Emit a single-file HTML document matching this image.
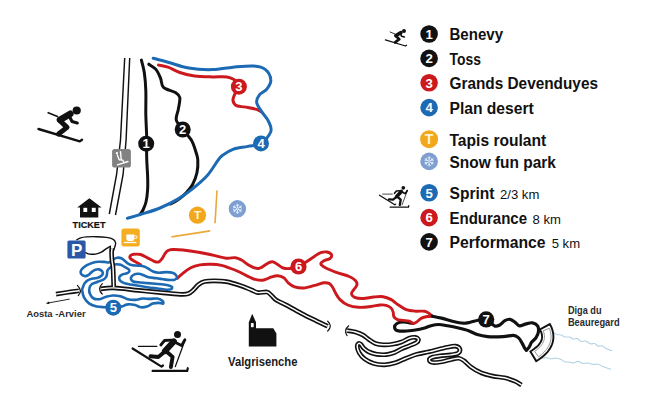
<!DOCTYPE html>
<html><head><meta charset="utf-8"><title>Valgrisenche ski map</title>
<style>html,body{margin:0;padding:0;background:#fff}svg{display:block;font-family:"Liberation Sans",sans-serif}</style>
</head><body>
<svg width="650" height="406" viewBox="0 0 650 406">
<rect width="650" height="406" fill="#fff"/>
<path d="M552.6 332.0C553.3 332.4 555.6 334.0 557.0 334.5C558.4 335.0 559.9 334.6 561.2 335.0C562.5 335.4 563.6 336.7 565.0 337.0C566.4 337.3 568.3 336.7 569.6 337.0C570.9 337.3 571.7 338.7 573.0 339.0C574.3 339.3 576.1 338.2 577.4 338.6C578.7 339.0 579.6 341.0 581.0 341.4C582.4 341.8 584.0 340.6 585.6 341.0C587.2 341.4 589.0 343.4 590.5 343.8C592.0 344.2 593.4 343.1 594.6 343.5C595.9 343.9 596.7 345.6 598.0 346.0C599.3 346.4 601.2 345.6 602.5 346.0C603.8 346.4 604.5 347.8 606.0 348.6C607.5 349.4 610.6 350.3 611.5 350.6" fill="none" stroke="#b4d3e4" stroke-width="1.1" stroke-linecap="round" stroke-linejoin="round" />
<path d="M541.0 358.6C541.8 358.4 544.3 357.6 546.0 357.6C547.7 357.6 549.3 358.7 551.0 358.8C552.7 358.9 554.3 357.9 556.0 358.0C557.7 358.1 559.6 358.8 561.0 359.4C562.4 360.0 563.2 361.4 564.5 361.8C565.8 362.2 567.5 361.8 569.0 362.0C570.5 362.2 571.9 363.1 573.4 363.0C574.9 362.9 576.4 361.3 578.0 361.4C579.6 361.5 581.3 363.1 583.0 363.4C584.7 363.7 586.3 362.8 588.0 363.0C589.7 363.2 591.3 364.2 593.0 364.4C594.7 364.6 596.3 363.8 598.0 364.2C599.7 364.6 600.9 365.8 603.0 366.6C605.1 367.4 609.5 368.8 610.8 369.2" fill="none" stroke="#b4d3e4" stroke-width="1.1" stroke-linecap="round" stroke-linejoin="round" />
<polyline points="124.7,58 120.5,140 116.6,174.5 109.3,214" fill="none" stroke="#111" stroke-width="1.45"/>
<polyline points="129.7,58 126.1,140 123.1,174.5 115.5,215" fill="none" stroke="#111" stroke-width="1.45"/>
<path d="M148.8 64.2C150.0 65.1 154.1 67.2 156.1 69.6C158.1 72.0 159.4 75.5 160.6 78.4C161.8 81.4 161.0 84.9 163.5 87.3C166.0 89.7 172.7 90.9 175.4 92.6C178.1 94.3 179.3 94.8 179.8 97.6C180.3 100.4 178.9 105.7 178.3 109.4C177.7 113.1 175.5 116.5 176.2 119.8C176.9 123.1 180.1 126.0 182.7 129.5C185.3 132.9 189.4 136.7 191.6 140.5C193.8 144.3 195.0 149.1 196.0 152.3C197.0 155.6 197.6 156.6 197.8 160.0C198.0 163.4 197.9 168.4 197.0 172.5C196.1 176.6 194.4 181.1 192.6 184.5C190.8 187.9 188.4 190.4 186.0 193.0C183.6 195.6 180.6 198.0 178.0 199.8C175.4 201.6 171.8 203.3 170.5 204.0" fill="none" stroke="#111" stroke-width="3" stroke-linecap="round" stroke-linejoin="round" />
<path d="M141.4 60.1C141.9 62.2 143.6 67.5 144.3 72.5C145.0 77.5 145.6 83.3 145.8 90.2C146.1 97.1 145.7 106.0 145.8 113.9C146.0 121.8 146.5 130.2 146.7 137.5C146.8 144.8 146.5 151.4 146.7 157.7C146.8 164.0 147.4 170.1 147.6 175.5C147.8 180.9 147.9 185.6 147.6 190.0C147.3 194.4 146.8 198.7 146.0 202.0C145.2 205.3 144.0 207.9 143.0 210.0C142.0 212.1 140.3 213.8 139.8 214.6" fill="none" stroke="#111" stroke-width="3" stroke-linecap="round" stroke-linejoin="round" />
<path d="M158.5 65.1C160.1 65.4 164.4 66.0 168.0 67.2C171.6 68.4 175.4 71.0 179.8 72.5C184.2 74.0 189.2 75.4 194.6 76.1C200.0 76.8 206.9 76.8 212.3 76.9C217.7 77.0 223.3 76.4 227.0 76.9C230.7 77.4 232.5 78.3 234.5 79.9C236.5 81.5 238.9 84.2 238.9 86.7C238.9 89.2 235.5 92.4 234.5 94.7C233.5 97.0 232.7 98.8 233.0 100.6C233.3 102.4 234.0 104.5 236.5 105.6C239.0 106.7 244.5 106.8 247.8 107.4C251.2 108.0 254.4 108.7 256.6 109.4C258.8 110.1 260.3 111.4 261.0 111.8" fill="none" stroke="#cb191e" stroke-width="3" stroke-linecap="round" stroke-linejoin="round" />
<path d="M153.2 58.3C155.7 58.9 162.1 60.6 168.0 62.2C173.9 63.8 181.3 66.9 188.7 68.1C196.1 69.3 204.9 69.8 212.3 69.6C219.7 69.4 226.1 67.8 233.0 67.2C239.9 66.6 248.3 65.6 253.7 66.0C259.1 66.4 262.6 67.3 265.5 69.6C268.4 71.9 270.6 76.7 270.8 79.9C271.1 83.1 268.9 86.3 267.0 88.8C265.1 91.3 261.3 92.5 259.6 94.7C257.9 96.9 256.4 99.4 256.6 102.1C256.9 104.8 259.1 107.7 261.1 110.9C263.1 114.1 266.9 117.8 268.5 121.3C270.1 124.8 272.1 127.9 270.8 131.6C269.6 135.3 264.8 140.9 261.0 143.4C257.2 145.9 252.5 145.4 247.8 146.4C243.1 147.4 237.2 147.8 233.0 149.3C228.8 150.8 225.1 153.4 222.6 155.2C220.1 157.0 220.8 156.6 218.2 160.0C215.6 163.4 211.6 170.7 207.3 175.5C203.0 180.3 197.4 184.9 192.5 188.8C187.6 192.7 183.2 195.9 177.8 199.1C172.4 202.3 165.9 205.5 160.0 208.0C154.1 210.5 147.7 212.2 142.3 213.9C136.9 215.6 130.0 217.6 127.5 218.3" fill="none" stroke="#1b6ab3" stroke-width="3" stroke-linecap="round" stroke-linejoin="round" />
<line x1="217" y1="190.4" x2="215" y2="223.2" stroke="#eaa93a" stroke-width="1.6"/>
<line x1="171.4" y1="236.9" x2="210.2" y2="230.9" stroke="#eaa93a" stroke-width="1.6"/>
<path d="M413.1 323.5C411.4 323.2 405.8 321.9 403.1 321.9C400.4 321.9 398.3 322.6 396.9 323.5C395.5 324.4 394.6 326.2 394.6 327.3C394.6 328.4 395.2 329.8 396.9 330.4C398.6 331.0 401.5 331.3 404.6 331.2C407.7 331.1 412.1 330.5 415.4 330.0C418.7 329.5 422.0 328.7 424.6 328.0C427.2 327.3 428.5 326.4 430.8 325.8C433.1 325.2 435.7 324.5 438.5 324.5C441.3 324.5 444.4 325.2 447.7 325.8C451.0 326.4 455.0 327.2 458.5 328.0C462.0 328.8 465.5 329.6 468.6 330.7C471.7 331.8 474.0 333.5 477.2 334.5C480.4 335.5 483.3 336.2 487.6 336.6C491.9 337.0 498.8 336.8 503.1 336.6C507.4 336.4 510.8 335.1 513.4 335.3C516.0 335.5 517.1 336.6 518.6 337.9C520.1 339.2 521.1 341.4 522.1 343.1C523.1 344.8 524.0 347.1 524.7 348.3C525.4 349.5 526.1 349.9 526.4 350.2" fill="none" stroke="#111" stroke-width="3.2" stroke-linecap="round" stroke-linejoin="round" />
<path d="M140.6 264.7C139.6 264.1 136.1 262.3 134.4 261.3C132.7 260.3 131.1 259.4 130.4 258.5C129.7 257.6 129.8 256.4 130.4 255.7C131.0 255.0 132.1 254.5 133.8 254.3C135.5 254.1 138.3 253.9 140.6 254.5C142.9 255.1 145.1 256.8 147.4 257.9C149.7 259.0 152.3 260.6 154.2 261.3C156.1 262.0 157.5 262.4 158.8 261.9C160.1 261.4 161.2 259.8 162.2 258.5C163.2 257.2 163.9 255.3 164.8 254.0C165.7 252.7 166.3 251.6 167.6 250.8C168.8 250.1 169.7 249.6 172.3 249.5C174.9 249.4 178.7 249.5 183.1 250.0C187.5 250.5 193.4 251.4 198.5 252.3C203.6 253.2 209.2 254.4 213.8 255.4C218.4 256.4 222.6 257.8 226.2 258.2C229.8 258.6 232.8 257.4 235.4 257.7C238.0 258.0 239.4 258.9 241.5 260.0C243.6 261.1 245.6 263.3 247.7 264.6C249.8 265.9 252.0 267.1 253.8 267.7C255.6 268.3 257.1 268.6 258.5 268.5C259.9 268.4 260.6 267.8 262.3 266.9C264.0 265.9 266.7 263.6 268.5 262.8C270.3 262.0 271.6 261.5 273.1 261.8C274.6 262.1 276.0 263.6 277.7 264.6C279.4 265.6 281.1 267.4 283.1 268.0C285.2 268.6 287.4 268.8 290.0 268.5C292.6 268.2 295.7 267.7 298.5 266.5C301.3 265.3 304.2 263.2 306.9 261.5C309.6 259.8 312.3 257.7 314.6 256.2C316.9 254.7 318.8 253.3 320.8 252.6C322.9 251.9 325.1 251.7 326.9 252.0C328.7 252.3 331.0 253.5 331.5 254.6C332.0 255.7 331.3 257.5 330.0 258.5C328.7 259.5 325.3 259.9 323.8 260.8C322.3 261.7 320.5 262.7 320.8 263.8C321.1 264.9 322.8 266.3 325.4 267.7C328.0 269.1 332.2 270.8 336.2 272.3C340.2 273.8 346.0 275.1 349.2 276.5C352.4 277.9 354.1 279.0 355.4 280.4C356.7 281.8 357.2 283.5 356.9 285.0C356.6 286.5 354.7 288.2 353.8 289.6C352.9 291.0 351.4 292.2 351.5 293.5C351.6 294.8 352.7 296.5 354.6 297.3C356.5 298.1 359.9 298.6 363.1 298.5C366.3 298.4 370.5 297.3 373.8 297.0C377.1 296.7 380.3 296.3 383.1 296.7C385.9 297.1 388.2 298.0 390.8 299.4C393.4 300.8 395.9 303.3 398.5 305.0C401.1 306.7 403.4 308.6 406.2 309.6C409.0 310.6 412.3 310.9 415.4 311.2C418.5 311.5 422.3 310.8 424.6 311.2C426.9 311.6 427.9 312.7 429.2 313.5C430.5 314.3 431.8 315.8 432.3 316.2" fill="none" stroke="#cb191e" stroke-width="2.9" stroke-linecap="round" stroke-linejoin="round" />
<path d="M177.3 278.3C178.3 277.4 180.8 274.9 183.1 273.1C185.3 271.3 188.0 269.1 190.8 267.7C193.6 266.3 196.7 265.5 200.0 264.9C203.3 264.3 207.2 264.2 210.8 264.3C214.4 264.4 218.2 264.7 221.5 265.4C224.8 266.1 227.7 267.4 230.8 268.5C233.9 269.6 236.9 270.9 240.0 272.3C243.1 273.7 246.5 275.8 249.2 277.0C251.9 278.2 253.8 279.2 256.2 279.7C258.6 280.2 261.2 280.5 263.8 280.0C266.4 279.5 269.2 277.6 271.5 276.9C273.8 276.2 275.6 275.6 277.7 275.7C279.8 275.8 282.0 276.5 283.8 277.7C285.6 278.9 286.7 281.6 288.5 283.1C290.3 284.6 292.1 286.1 294.6 286.9C297.2 287.7 300.5 288.2 303.8 288.0C307.1 287.8 311.3 286.3 314.6 285.4C317.9 284.5 321.4 283.1 323.8 282.8C326.2 282.5 327.6 282.7 329.0 283.4C330.4 284.1 331.4 285.4 332.5 287.0C333.6 288.6 334.1 290.6 335.4 292.7C336.6 294.8 337.9 297.6 340.0 299.6C342.1 301.7 344.6 303.7 347.7 305.0C350.8 306.3 354.6 307.1 358.5 307.3C362.4 307.6 367.2 306.9 370.8 306.5C374.4 306.1 377.4 305.2 380.0 305.0C382.6 304.8 384.4 304.8 386.2 305.3C388.0 305.8 389.6 306.7 390.8 307.8C392.0 308.9 392.6 310.4 393.1 311.9C393.6 313.3 393.2 315.3 393.8 316.5C394.4 317.7 395.3 318.7 396.9 319.3C398.4 319.9 401.1 320.1 403.1 320.4C405.2 320.7 407.5 320.7 409.2 321.2C410.9 321.7 411.8 323.4 413.1 323.5C414.4 323.6 415.5 322.8 416.9 321.9C418.3 321.0 419.7 319.0 421.5 318.1C423.3 317.2 425.9 316.8 427.7 316.5C429.5 316.2 431.5 316.2 432.3 316.2" fill="none" stroke="#cb191e" stroke-width="2.9" stroke-linecap="round" stroke-linejoin="round" />
<path d="M114.0 259.0C115.3 258.2 116.2 257.8 117.4 257.7C118.6 257.6 120.1 257.7 121.3 258.2C122.5 258.7 123.6 259.9 124.7 260.8C125.8 261.7 126.8 262.9 128.1 263.6C129.4 264.4 131.0 265.0 132.7 265.3C134.4 265.6 136.4 265.4 138.3 265.6C140.2 265.8 142.3 265.9 144.0 266.4C145.7 266.9 147.0 267.8 148.5 268.7C150.0 269.6 151.4 270.8 153.1 271.5C154.8 272.2 156.5 272.6 158.8 272.7C161.1 272.8 164.4 272.1 166.7 272.1C169.0 272.1 170.9 272.2 172.4 272.7C173.9 273.2 175.1 274.0 175.8 274.9C176.6 275.8 177.1 277.0 176.9 277.8C176.7 278.6 175.7 279.3 174.6 279.7C173.5 280.1 172.0 280.1 170.1 280.0C168.2 279.9 165.8 279.6 163.3 279.3C160.9 279.0 157.9 278.5 155.4 278.1C152.9 277.8 150.6 277.7 148.5 277.2C146.4 276.7 144.6 275.5 142.9 274.9C141.2 274.3 139.7 273.9 138.3 273.8C136.9 273.7 135.5 273.9 134.4 274.4C133.3 274.9 132.1 275.8 131.5 276.6C130.9 277.4 130.7 278.5 131.0 279.3C131.3 280.1 132.0 281.0 133.2 281.5C134.4 282.0 135.9 282.0 138.3 282.3C140.7 282.6 144.2 282.8 147.4 283.1C150.6 283.4 154.4 283.7 157.6 284.0C160.8 284.3 164.3 284.6 166.7 285.1C169.1 285.6 171.1 286.1 171.8 286.8C172.6 287.5 172.0 288.6 171.2 289.1C170.3 289.6 169.0 289.8 166.7 289.7C164.4 289.6 160.8 288.9 157.6 288.5C154.4 288.1 150.6 287.7 147.4 287.2C144.2 286.7 141.1 286.1 138.3 285.7C135.5 285.3 132.9 285.1 130.4 284.6C128.0 284.1 125.4 283.7 123.6 282.9C121.8 282.1 120.3 281.1 119.6 280.0C118.9 278.9 119.1 277.5 119.6 276.6C120.1 275.7 121.3 275.0 122.5 274.4C123.7 273.8 125.9 273.7 127.0 273.2C128.1 272.7 129.0 272.1 129.3 271.5C129.6 270.9 129.5 270.1 128.7 269.3C127.9 268.6 126.0 267.8 124.7 267.0C123.4 266.2 122.1 265.2 120.8 264.7C119.5 264.2 117.8 264.2 116.8 264.2C115.8 264.2 115.8 264.0 114.5 264.7C113.2 265.4 110.3 267.6 109.1 268.6C107.9 269.6 107.8 269.8 107.4 270.7C107.1 271.6 107.2 273.0 107.0 274.0C106.8 275.0 106.8 276.0 106.2 276.9C105.6 277.8 104.7 278.8 103.6 279.5C102.5 280.2 100.7 280.7 99.5 281.1C98.3 281.6 98.0 281.6 96.7 282.2C95.4 282.8 92.7 283.3 91.5 284.4C90.3 285.5 89.5 287.3 89.3 288.9C89.0 290.5 89.3 292.4 90.0 294.0C90.7 295.6 92.1 297.6 93.7 298.5C95.3 299.4 97.6 299.4 99.6 299.2C101.6 298.9 103.3 297.6 105.5 297.0C107.7 296.4 110.4 295.6 112.9 295.5C115.4 295.4 117.8 295.6 120.3 296.2C122.8 296.8 125.2 298.6 127.7 299.2C130.2 299.8 132.6 300.0 135.1 299.9C137.6 299.8 140.0 298.7 142.5 298.5C145.0 298.3 147.5 298.9 149.9 298.9C152.3 298.9 155.1 298.2 157.2 298.5C159.3 298.8 161.4 299.8 162.4 300.7C163.4 301.6 163.7 303.2 163.1 303.6C162.5 304.0 160.4 302.9 158.7 302.9C157.0 302.9 154.8 303.0 152.8 303.6C150.8 304.2 148.9 306.0 146.9 306.6C144.9 307.2 143.0 307.6 141.0 307.3C139.0 307.1 137.3 305.6 135.1 305.1C132.9 304.6 129.9 304.1 127.7 304.4C125.5 304.6 124.3 306.0 121.8 306.6C119.3 307.2 115.6 308.0 112.9 308.1C110.2 308.2 108.2 307.6 105.5 307.3C102.8 307.1 99.4 307.2 96.7 306.6C94.0 306.0 91.4 305.1 89.3 303.6C87.2 302.1 85.3 299.9 84.1 297.7C82.9 295.5 82.4 291.9 82.2 290.3C82.0 288.7 82.3 288.9 82.7 287.8C83.1 286.7 83.6 284.9 84.4 283.6C85.2 282.4 86.3 281.1 87.7 280.3C89.1 279.5 91.1 279.0 92.8 278.6C94.5 278.2 96.4 278.2 97.8 277.8C99.2 277.4 100.3 276.8 101.1 276.1C101.9 275.4 102.6 274.4 102.8 273.6C103.0 272.8 102.6 271.8 102.0 271.1C101.4 270.4 100.1 269.6 99.0 269.4C97.9 269.2 96.5 269.4 95.3 269.8C94.1 270.2 93.0 271.1 91.9 271.9C90.8 272.7 89.7 274.1 88.6 274.8C87.5 275.5 86.3 276.1 85.2 276.1C84.1 276.1 82.7 275.5 81.9 274.8C81.1 274.1 80.5 272.9 80.6 271.9C80.7 270.9 81.2 269.7 82.3 268.6C83.3 267.5 85.2 266.2 86.9 265.2C88.7 264.2 90.8 263.3 92.8 262.7C94.8 262.1 96.6 261.8 98.6 261.7C100.5 261.6 102.7 261.8 104.5 261.9C106.3 262.0 107.9 262.8 109.5 262.3C111.1 261.8 112.7 259.8 114.0 259.0Z" fill="none" stroke="#1b6ab3" stroke-width="2.6" stroke-linecap="round" stroke-linejoin="round" />
<path d="M432.3 316.2C433.8 316.5 438.2 317.3 441.5 318.1C444.8 318.9 448.7 320.4 452.3 321.2C455.9 322.0 460.1 323.0 463.1 323.2C466.1 323.4 467.8 322.7 470.3 322.2C472.8 321.7 475.5 320.8 478.1 320.3C480.8 319.8 483.5 318.4 486.2 319.3C488.9 320.2 492.2 324.9 494.5 325.9C496.8 326.8 498.0 325.9 499.7 325.0C501.4 324.1 503.1 321.6 504.8 320.7C506.5 319.8 508.3 319.0 510.0 319.3C511.7 319.6 513.6 321.3 515.2 322.4C516.8 323.5 517.8 325.6 519.5 325.9C521.2 326.2 523.4 324.6 525.5 324.1C527.6 323.6 530.4 322.5 532.4 322.8C534.4 323.1 536.6 324.4 537.6 325.9C538.6 327.4 538.7 329.9 538.4 331.9C538.1 333.9 537.0 336.2 535.9 337.9C534.8 339.6 532.8 340.6 531.6 342.2C530.5 343.8 529.9 346.1 529.0 347.4C528.1 348.7 526.8 349.7 526.4 350.2" fill="none" stroke="#111" stroke-width="3.2" stroke-linecap="round" stroke-linejoin="round" />
<path d="M56.0 294.1C58.0 293.8 64.2 292.9 68.0 292.3C71.8 291.7 77.2 291.0 79.0 290.7" fill="none" stroke="#111" stroke-width="4.7" stroke-linecap="butt" stroke-linejoin="round"/>
<path d="M56.0 294.1C58.0 293.8 64.2 292.9 68.0 292.3C71.8 291.7 77.2 291.0 79.0 290.7" fill="none" stroke="#fff" stroke-width="1.45" stroke-linecap="butt" stroke-linejoin="round"/>
<path d="M77.4 285.4Q82.8 290.9 78.3 295.6" stroke="#111" stroke-width="1.2" fill="none" stroke-linecap="round"/>
<path d="M69.7 299.1L47.5 303.1" fill="none" stroke="#111" stroke-width="0.9"/><path d="M45.8 303.4L49 301.4L49.5 304.1Z" fill="#111"/>
<path d="M100.6 288.9C102.8 288.7 107.5 287.6 113.8 287.9C120.1 288.1 130.3 289.6 138.5 290.4C146.7 291.2 156.1 292.1 163.0 292.8C169.9 293.5 175.8 294.1 180.0 294.3C184.2 294.5 185.8 294.5 188.0 293.8C190.2 293.1 191.2 291.9 193.0 290.4C194.8 288.9 196.6 286.1 198.5 284.6C200.4 283.1 202.0 282.1 204.6 281.5C207.2 280.9 210.2 280.8 213.8 280.8C217.4 280.8 221.8 280.8 226.2 281.6C230.6 282.4 235.8 284.0 240.0 285.4C244.2 286.8 248.5 288.8 251.5 290.0C254.5 291.2 255.4 292.3 258.0 292.6C260.6 292.9 264.7 291.6 266.9 292.0C269.1 292.4 269.4 293.7 271.0 295.0C272.6 296.3 273.8 298.4 276.2 300.0C278.6 301.6 281.3 302.4 285.4 304.6C289.5 306.8 295.7 310.4 300.8 313.1C305.9 315.8 311.7 318.6 316.2 320.8C320.7 323.0 325.8 325.3 327.7 326.2" fill="none" stroke="#111" stroke-width="4.7" stroke-linecap="butt" stroke-linejoin="round"/>
<path d="M100.6 288.9C102.8 288.7 107.5 287.6 113.8 287.9C120.1 288.1 130.3 289.6 138.5 290.4C146.7 291.2 156.1 292.1 163.0 292.8C169.9 293.5 175.8 294.1 180.0 294.3C184.2 294.5 185.8 294.5 188.0 293.8C190.2 293.1 191.2 291.9 193.0 290.4C194.8 288.9 196.6 286.1 198.5 284.6C200.4 283.1 202.0 282.1 204.6 281.5C207.2 280.9 210.2 280.8 213.8 280.8C217.4 280.8 221.8 280.8 226.2 281.6C230.6 282.4 235.8 284.0 240.0 285.4C244.2 286.8 248.5 288.8 251.5 290.0C254.5 291.2 255.4 292.3 258.0 292.6C260.6 292.9 264.7 291.6 266.9 292.0C269.1 292.4 269.4 293.7 271.0 295.0C272.6 296.3 273.8 298.4 276.2 300.0C278.6 301.6 281.3 302.4 285.4 304.6C289.5 306.8 295.7 310.4 300.8 313.1C305.9 315.8 311.7 318.6 316.2 320.8C320.7 323.0 325.8 325.3 327.7 326.2" fill="none" stroke="#fff" stroke-width="1.45" stroke-linecap="butt" stroke-linejoin="round"/>
<path d="M102.4 283.6Q96.8 288.8 102.2 294" stroke="#111" stroke-width="1.2" fill="none" stroke-linecap="round"/>
<path d="M327.7 321.2Q333 326 327.7 331" stroke="#111" stroke-width="1.2" fill="none" stroke-linecap="round"/>
<path d="M348.7 325.8Q343.2 330.6 347.1 335.6" stroke="#111" stroke-width="1.2" fill="none" stroke-linecap="round"/>
<path d="M112.1 248.2C112.0 248.9 111.6 250.5 111.6 252.6C111.6 254.7 111.8 258.0 112.0 260.5C112.2 263.0 112.8 264.1 113.0 267.4C113.2 270.6 113.4 276.7 113.5 280.0C113.6 283.3 113.7 285.8 113.7 287.0" fill="none" stroke="#111" stroke-width="4.7" stroke-linecap="butt" stroke-linejoin="round"/>
<path d="M112.1 248.2C112.0 248.9 111.6 250.5 111.6 252.6C111.6 254.7 111.8 258.0 112.0 260.5C112.2 263.0 112.8 264.1 113.0 267.4C113.2 270.6 113.4 276.7 113.5 280.0C113.6 283.3 113.7 285.8 113.7 287.0" fill="none" stroke="#fff" stroke-width="1.5" stroke-linecap="butt" stroke-linejoin="round"/>
<path d="M76.8 239.8C77.5 239.5 79.1 238.3 80.7 237.8C82.3 237.3 84.0 237.1 86.6 236.9C89.2 236.7 93.1 236.6 96.4 236.7C99.7 236.8 103.5 237.0 106.3 237.4C109.1 237.8 111.7 238.4 113.2 239.3C114.8 240.2 115.3 241.6 115.6 242.8C115.9 244.0 115.2 245.4 114.9 246.7C114.6 248.0 113.8 249.8 113.6 250.4" fill="none" stroke="#111" stroke-width="1.4" stroke-linecap="round" stroke-linejoin="round" />
<path d="M85.6 252.6C86.3 252.8 87.9 253.8 89.6 254.1C91.2 254.3 93.5 254.4 95.5 254.1C97.5 253.8 99.6 253.0 101.4 252.1C103.2 251.2 104.8 249.7 106.3 248.7C107.8 247.7 109.7 246.7 110.4 246.3" fill="none" stroke="#111" stroke-width="1.4" stroke-linecap="round" stroke-linejoin="round" />
<path d="M110.4 246.3L110.2 250.5" stroke="#111" stroke-width="1.35" fill="none" stroke-linecap="round"/>
<path d="M346.9 330.5C348.3 330.8 352.7 331.2 355.4 332.0C358.1 332.8 360.8 333.8 363.1 335.1C365.4 336.4 367.1 338.3 369.2 339.7C371.2 341.1 373.1 342.6 375.4 343.5C377.7 344.4 380.3 344.7 383.1 344.8C385.9 344.9 389.2 344.8 392.3 344.3C395.4 343.8 398.7 343.0 401.5 342.0C404.3 341.0 406.9 339.0 409.2 338.2C411.5 337.4 413.8 337.1 415.4 337.4C416.9 337.6 418.4 338.8 418.5 339.7C418.6 340.6 417.8 341.8 416.2 342.8C414.6 343.8 411.6 344.8 409.2 345.8C406.8 346.8 404.1 347.7 401.5 348.9C398.9 350.1 396.4 351.9 393.8 352.8C391.2 353.8 389.0 354.4 386.2 354.6C383.4 354.9 379.7 354.7 376.9 354.3C374.1 353.9 371.4 353.0 369.2 352.0C367.0 351.0 365.2 349.5 363.8 348.2C362.4 346.9 361.7 345.1 360.8 344.3C359.9 343.5 359.1 343.1 358.5 343.5C357.9 343.9 357.1 345.1 357.2 346.6C357.3 348.2 358.0 350.8 359.2 352.8C360.4 354.9 362.2 357.1 364.6 358.9C367.0 360.7 370.5 362.5 373.8 363.5C377.1 364.5 381.0 364.9 384.6 364.8C388.2 364.7 391.8 363.9 395.4 362.8C399.0 361.7 402.6 359.6 406.2 358.2C409.8 356.8 413.3 355.3 416.9 354.3C420.5 353.3 424.9 352.6 427.7 352.0C430.5 351.4 430.3 351.5 433.5 350.7C436.7 349.9 443.4 348.1 447.1 347.3C450.8 346.5 453.4 345.8 455.5 346.1C457.6 346.4 459.4 347.8 459.8 349.0C460.2 350.2 459.7 352.2 458.1 353.2C456.6 354.2 453.5 354.5 450.5 354.9C447.5 355.3 443.4 355.4 440.3 355.8C437.2 356.2 433.6 356.8 431.8 357.5C430.0 358.2 429.2 359.2 429.3 360.0C429.4 360.8 430.6 362.2 432.7 362.5C434.8 362.8 438.8 362.2 442.0 361.7C445.2 361.1 449.4 359.8 452.2 359.2C455.0 358.6 456.9 358.0 458.9 358.3C460.9 358.6 462.0 359.4 464.0 360.8C466.0 362.2 468.0 364.8 470.8 366.8C473.6 368.8 477.2 371.1 480.9 372.7C484.6 374.2 488.9 375.2 492.8 376.1C496.8 377.0 500.9 377.0 504.6 377.8C508.3 378.6 512.0 380.0 514.8 381.2C517.6 382.4 520.4 384.4 521.5 385.0" fill="none" stroke="#111" stroke-width="4.7" stroke-linecap="butt" stroke-linejoin="round"/>
<path d="M346.9 330.5C348.3 330.8 352.7 331.2 355.4 332.0C358.1 332.8 360.8 333.8 363.1 335.1C365.4 336.4 367.1 338.3 369.2 339.7C371.2 341.1 373.1 342.6 375.4 343.5C377.7 344.4 380.3 344.7 383.1 344.8C385.9 344.9 389.2 344.8 392.3 344.3C395.4 343.8 398.7 343.0 401.5 342.0C404.3 341.0 406.9 339.0 409.2 338.2C411.5 337.4 413.8 337.1 415.4 337.4C416.9 337.6 418.4 338.8 418.5 339.7C418.6 340.6 417.8 341.8 416.2 342.8C414.6 343.8 411.6 344.8 409.2 345.8C406.8 346.8 404.1 347.7 401.5 348.9C398.9 350.1 396.4 351.9 393.8 352.8C391.2 353.8 389.0 354.4 386.2 354.6C383.4 354.9 379.7 354.7 376.9 354.3C374.1 353.9 371.4 353.0 369.2 352.0C367.0 351.0 365.2 349.5 363.8 348.2C362.4 346.9 361.7 345.1 360.8 344.3C359.9 343.5 359.1 343.1 358.5 343.5C357.9 343.9 357.1 345.1 357.2 346.6C357.3 348.2 358.0 350.8 359.2 352.8C360.4 354.9 362.2 357.1 364.6 358.9C367.0 360.7 370.5 362.5 373.8 363.5C377.1 364.5 381.0 364.9 384.6 364.8C388.2 364.7 391.8 363.9 395.4 362.8C399.0 361.7 402.6 359.6 406.2 358.2C409.8 356.8 413.3 355.3 416.9 354.3C420.5 353.3 424.9 352.6 427.7 352.0C430.5 351.4 430.3 351.5 433.5 350.7C436.7 349.9 443.4 348.1 447.1 347.3C450.8 346.5 453.4 345.8 455.5 346.1C457.6 346.4 459.4 347.8 459.8 349.0C460.2 350.2 459.7 352.2 458.1 353.2C456.6 354.2 453.5 354.5 450.5 354.9C447.5 355.3 443.4 355.4 440.3 355.8C437.2 356.2 433.6 356.8 431.8 357.5C430.0 358.2 429.2 359.2 429.3 360.0C429.4 360.8 430.6 362.2 432.7 362.5C434.8 362.8 438.8 362.2 442.0 361.7C445.2 361.1 449.4 359.8 452.2 359.2C455.0 358.6 456.9 358.0 458.9 358.3C460.9 358.6 462.0 359.4 464.0 360.8C466.0 362.2 468.0 364.8 470.8 366.8C473.6 368.8 477.2 371.1 480.9 372.7C484.6 374.2 488.9 375.2 492.8 376.1C496.8 377.0 500.9 377.0 504.6 377.8C508.3 378.6 512.0 380.0 514.8 381.2C517.6 382.4 520.4 384.4 521.5 385.0" fill="none" stroke="#fff" stroke-width="1.45" stroke-linecap="butt" stroke-linejoin="round"/>
<path d="M540.0 329.5L540.5 330.7L541.0 331.7L541.4 332.8L541.7 333.7L541.9 334.7L542.0 335.6L542.1 336.4L542.1 337.3L542.0 338.1L541.9 338.9L541.7 339.7L541.4 340.5L541.0 341.3L540.6 342.2L540.0 343.0L539.4 343.9L538.7 344.8L537.8 345.8L536.9 346.7L535.8 347.6L534.6 348.6L533.3 349.5L531.9 350.5L530.4 351.5L536.2 361.1L538.1 360.0L539.8 358.8L541.5 357.5L543.1 356.3L544.5 355.0L545.9 353.6L547.2 352.3L548.4 350.8L549.4 349.4L550.4 347.8L551.2 346.3L551.9 344.6L552.5 343.0L552.9 341.3L553.2 339.6L553.4 337.8L553.4 336.1L553.3 334.3L553.0 332.6L552.6 330.8L552.1 329.1L551.5 327.4L550.7 325.7L549.8 324.1Z" fill="#fff" stroke="#111" stroke-width="1.9" stroke-linejoin="miter"/>
<path d="M543.2 330.8L543.6 332.0L544.0 333.1L544.2 334.2L544.4 335.3L544.5 336.4L544.4 337.4L544.4 338.4L544.2 339.4L543.9 340.4L543.6 341.4L543.1 342.4L542.6 343.4L542.0 344.4L541.3 345.4L540.4 346.4L539.5 347.4L538.5 348.4L537.3 349.4L536.0 350.4L534.7 351.5L538.5 356.8L540.1 355.7L541.6 354.5L542.9 353.2L544.2 352.0L545.4 350.7L546.5 349.4L547.5 348.0L548.3 346.7L549.1 345.2L549.7 343.8L550.2 342.3L550.6 340.8L550.9 339.3L551.0 337.7L551.1 336.1L550.9 334.6L550.7 333.0L550.4 331.4L549.9 329.9L549.3 328.3Z" fill="none" stroke="#666" stroke-width="0.7" stroke-linejoin="miter"/>
<circle cx="146.2" cy="143.7" r="8" fill="#111"/>
<text x="146.2" y="148.4" font-size="13" font-weight="700" fill="#fff" text-anchor="middle">1</text>
<circle cx="182.7" cy="129.5" r="8" fill="#111"/>
<text x="182.7" y="134.2" font-size="13" font-weight="700" fill="#fff" text-anchor="middle">2</text>
<circle cx="238.9" cy="86.7" r="8" fill="#cb191e"/>
<text x="238.9" y="91.4" font-size="13" font-weight="700" fill="#fff" text-anchor="middle">3</text>
<circle cx="261" cy="143.4" r="8" fill="#1b6ab3"/>
<text x="261" y="148.1" font-size="13" font-weight="700" fill="#fff" text-anchor="middle">4</text>
<circle cx="113.3" cy="307.7" r="8" fill="#1b6ab3"/>
<text x="113.3" y="312.4" font-size="13" font-weight="700" fill="#fff" text-anchor="middle">5</text>
<circle cx="298.5" cy="266.5" r="8.1" fill="#cb191e"/>
<text x="298.5" y="271.2" font-size="13" font-weight="700" fill="#fff" text-anchor="middle">6</text>
<circle cx="486.2" cy="319.4" r="8.1" fill="#111"/>
<text x="486.2" y="324.1" font-size="13" font-weight="700" fill="#fff" text-anchor="middle">7</text>
<circle cx="197.5" cy="215.2" r="8.6" fill="#f2a81d"/>
<text x="197.5" y="219.4" font-size="11.8" font-weight="700" fill="#fff6d8" text-anchor="middle">T</text>
<circle cx="237.4" cy="208.8" r="8.7" fill="#7f9fd1"/>
<path d="M238.18 209.25L241.38 211.10M239.87 210.23L241.34 209.69M239.87 210.23L240.14 211.77M237.40 209.70L237.40 213.40M237.40 211.65L238.60 212.66M237.40 211.65L236.20 212.66M236.62 209.25L233.42 211.10M234.93 210.23L234.66 211.77M234.93 210.23L233.46 209.69M236.62 208.35L233.42 206.50M234.93 207.37L233.46 207.91M234.93 207.37L234.66 205.83M237.40 207.90L237.40 204.20M237.40 205.95L236.20 204.94M237.40 205.95L238.60 204.94M238.18 208.35L241.38 206.50M239.87 207.37L240.14 205.83M239.87 207.37L241.34 207.91" stroke="#e3edfb" stroke-width="1.0" fill="none" stroke-linecap="round"/>
<rect x="112.1" y="148.9" width="18.8" height="18.7" rx="2.6" fill="#828282"/>
<path d="M120.5 151.6L121.2 159.2M117.3 155L119.2 159.7L122.8 160.1L123.9 162.9M117.4 164.9L128 161.5" stroke="#fff" stroke-width="1.4" fill="none" stroke-linecap="round" stroke-linejoin="round"/><circle cx="116.9" cy="153.2" r="1.15" fill="#fff"/>
<rect x="67.4" y="240.4" width="18.2" height="18.2" rx="1.6" fill="#2b57a7"/>
<text x="76.6" y="256" font-size="17" font-weight="700" fill="#fff" text-anchor="middle">P</text>
<rect x="121.4" y="228.6" width="18.4" height="17.8" rx="2.6" fill="#f5ae1f"/>
<path d="M126.3 234.6H134.4V238.8Q134.4 240.9 132.3 240.9H128.4Q126.3 240.9 126.3 238.8Z" fill="#fff"/><path d="M134.4 235.8H135.9Q137 235.8 137 237.1T135.9 238.4H134.4" fill="none" stroke="#fff" stroke-width="0.9"/><path d="M123.8 242.5H136.4" stroke="#fff" stroke-width="1.3"/>
<path d="M89.4 198.2L101.6 207.4H98.3V217.5H80V207.4H77.2Z" fill="#111"/>
<rect x="83.4" y="207.8" width="3.8" height="4.2" fill="#fff"/><rect x="91.8" y="207.8" width="3.9" height="4.2" fill="#fff"/>
<text x="72.6" y="227.8" font-size="9.4" font-weight="700" fill="#111" textLength="32.9" lengthAdjust="spacingAndGlyphs" stroke="#111" stroke-width="0.2">TICKET</text>
<path d="M252.2 313.8L256 322.2V328.3H273.3L276.4 333.4V346.4H248.8V322.2Z" fill="#111"/>
<rect x="250.9" y="322.9" width="2.8" height="4.4" rx="0.8" fill="#fff"/>
<circle cx="76.7" cy="110.5" r="4.10" fill="#111"/><path d="M38.5 129.0L79.8 141.4L82.0 139.8" fill="none" stroke="#111" stroke-width="2.40" stroke-linecap="round" stroke-linejoin="round"/><path d="M48.2 112.7L57.5 116.6" fill="none" stroke="#111" stroke-width="1.60" stroke-linecap="round" stroke-linejoin="round"/><path d="M70.3 113.8L60.0 119.8" fill="none" stroke="#111" stroke-width="6.60" stroke-linecap="round" stroke-linejoin="round"/><path d="M60.0 120.8L67.0 127.4L58.5 134.0" fill="none" stroke="#111" stroke-width="5.00" stroke-linecap="round" stroke-linejoin="round"/><path d="M69.5 116.5L72.0 121.5L77.3 123.0" fill="none" stroke="#111" stroke-width="3.10" stroke-linecap="round" stroke-linejoin="round"/>
<circle cx="404.0" cy="31.0" r="1.99" fill="#111"/><path d="M385.4 39.9L405.5 46.0L406.5 45.2" fill="none" stroke="#111" stroke-width="1.30" stroke-linecap="round" stroke-linejoin="round"/><path d="M390.1 32.0L394.7 33.9" fill="none" stroke="#111" stroke-width="0.87" stroke-linecap="round" stroke-linejoin="round"/><path d="M400.9 32.6L395.9 35.5" fill="none" stroke="#111" stroke-width="3.59" stroke-linecap="round" stroke-linejoin="round"/><path d="M395.9 36.0L399.3 39.2L395.1 42.4" fill="none" stroke="#111" stroke-width="2.72" stroke-linecap="round" stroke-linejoin="round"/><path d="M400.5 33.9L401.7 36.3L404.3 37.0" fill="none" stroke="#111" stroke-width="1.68" stroke-linecap="round" stroke-linejoin="round"/>
<circle cx="177.5" cy="334.6" r="3.50" fill="#111"/><path d="M132.6 348.5L161.5 366.6L163.0 365.5" fill="none" stroke="#111" stroke-width="2.20" stroke-linecap="round" stroke-linejoin="round"/><path d="M152.6 370.9L187.2 370.9L187.8 368.2" fill="none" stroke="#111" stroke-width="2.20" stroke-linecap="round" stroke-linejoin="round"/><path d="M138.5 346.4L156.8 346.4" fill="none" stroke="#111" stroke-width="1.30" stroke-linecap="round" stroke-linejoin="round"/><path d="M184.9 340.5L175.3 366.6" fill="none" stroke="#111" stroke-width="1.30" stroke-linecap="round" stroke-linejoin="round"/><path d="M173.8 341.5L165.0 351.0" fill="none" stroke="#111" stroke-width="6.20" stroke-linecap="round" stroke-linejoin="round"/><path d="M171.5 340.2L164.5 340.5L160.8 345.0" fill="none" stroke="#111" stroke-width="2.80" stroke-linecap="round" stroke-linejoin="round"/><path d="M174.5 342.0L181.5 345.6L184.9 339.7" fill="none" stroke="#111" stroke-width="2.80" stroke-linecap="round" stroke-linejoin="round"/><path d="M167.0 352.0L172.6 356.9L170.9 367.0" fill="none" stroke="#111" stroke-width="3.90" stroke-linecap="round" stroke-linejoin="round"/><path d="M164.0 352.3L158.3 357.0L150.5 356.2" fill="none" stroke="#111" stroke-width="3.90" stroke-linecap="round" stroke-linejoin="round"/>
<circle cx="403.3" cy="187.8" r="1.85" fill="#111"/><path d="M379.5 195.2L394.8 204.8L395.6 204.2" fill="none" stroke="#111" stroke-width="1.28" stroke-linecap="round" stroke-linejoin="round"/><path d="M390.1 207.1L408.5 207.1L408.8 205.6" fill="none" stroke="#111" stroke-width="1.28" stroke-linecap="round" stroke-linejoin="round"/><path d="M382.6 194.1L392.3 194.1" fill="none" stroke="#111" stroke-width="0.76" stroke-linecap="round" stroke-linejoin="round"/><path d="M407.2 191.0L402.1 204.8" fill="none" stroke="#111" stroke-width="0.76" stroke-linecap="round" stroke-linejoin="round"/><path d="M401.4 191.5L396.7 196.5" fill="none" stroke="#111" stroke-width="3.61" stroke-linecap="round" stroke-linejoin="round"/><path d="M400.1 190.8L396.4 191.0L394.5 193.3" fill="none" stroke="#111" stroke-width="1.63" stroke-linecap="round" stroke-linejoin="round"/><path d="M401.7 191.8L405.4 193.7L407.2 190.5" fill="none" stroke="#111" stroke-width="1.63" stroke-linecap="round" stroke-linejoin="round"/><path d="M397.8 197.1L400.7 199.7L399.8 205.0" fill="none" stroke="#111" stroke-width="2.27" stroke-linecap="round" stroke-linejoin="round"/><path d="M396.2 197.2L393.1 199.7L389.0 199.3" fill="none" stroke="#111" stroke-width="2.27" stroke-linecap="round" stroke-linejoin="round"/>
<circle cx="429.1" cy="34.0" r="8.8" fill="#111"/>
<text x="429.1" y="38.8" font-size="13.2" font-weight="700" fill="#fff" text-anchor="middle">1</text>
<text x="449.5" y="40.3" font-size="17.4" font-weight="700" fill="#111" textLength="53.5" lengthAdjust="spacingAndGlyphs">Benevy</text>
<circle cx="429.1" cy="58.4" r="8.8" fill="#111"/>
<text x="429.1" y="63.2" font-size="13.2" font-weight="700" fill="#fff" text-anchor="middle">2</text>
<text x="449.5" y="64.7" font-size="17.4" font-weight="700" fill="#111" textLength="31.4" lengthAdjust="spacingAndGlyphs">Toss</text>
<circle cx="429.1" cy="82.8" r="8.8" fill="#cb191e"/>
<text x="429.1" y="87.6" font-size="13.2" font-weight="700" fill="#fff" text-anchor="middle">3</text>
<text x="449.5" y="89.1" font-size="17.4" font-weight="700" fill="#111" textLength="148.5" lengthAdjust="spacingAndGlyphs">Grands Devenduyes</text>
<circle cx="429.1" cy="107.6" r="8.8" fill="#1b6ab3"/>
<text x="429.1" y="112.4" font-size="13.2" font-weight="700" fill="#fff" text-anchor="middle">4</text>
<text x="449.5" y="113.9" font-size="17.4" font-weight="700" fill="#111" textLength="84.2" lengthAdjust="spacingAndGlyphs">Plan desert</text>
<circle cx="429.1" cy="139.2" r="9" fill="#f2a81d"/>
<text x="429.1" y="144.2" font-size="14" font-weight="700" fill="#fff6d8" text-anchor="middle">T</text>
<text x="449.5" y="145.5" font-size="17.4" font-weight="700" fill="#111" textLength="96.7" lengthAdjust="spacingAndGlyphs">Tapis roulant</text>
<circle cx="429.1" cy="161.4" r="8.8" fill="#7f9fd1"/>
<path d="M429.88 161.85L433.17 163.75M431.62 162.86L433.13 162.31M431.62 162.86L431.90 164.43M429.10 162.30L429.10 166.10M429.10 164.31L430.32 165.34M429.10 164.31L427.88 165.34M428.32 161.85L425.03 163.75M426.58 162.86L426.30 164.43M426.58 162.86L425.07 162.31M428.32 160.95L425.03 159.05M426.58 159.94L425.07 160.49M426.58 159.94L426.30 158.37M429.10 160.50L429.10 156.70M429.10 158.49L427.88 157.46M429.10 158.49L430.32 157.46M429.88 160.95L433.17 159.05M431.62 159.94L431.90 158.37M431.62 159.94L433.13 160.49" stroke="#e3edfb" stroke-width="1.0" fill="none" stroke-linecap="round"/>
<text x="449.5" y="167.7" font-size="17.4" font-weight="700" fill="#111" textLength="106.4" lengthAdjust="spacingAndGlyphs">Snow fun park</text>
<circle cx="429.1" cy="192.8" r="8.8" fill="#1b6ab3"/>
<text x="429.1" y="197.6" font-size="13.2" font-weight="700" fill="#fff" text-anchor="middle">5</text>
<text x="449.5" y="199.1" font-size="17.4" font-weight="700" fill="#111" textLength="45" lengthAdjust="spacingAndGlyphs">Sprint</text>
<text x="500" y="199.1" font-size="13.1" fill="#111">2/3 km</text>
<circle cx="429.1" cy="217.6" r="8.8" fill="#cb191e"/>
<text x="429.1" y="222.4" font-size="13.2" font-weight="700" fill="#fff" text-anchor="middle">6</text>
<text x="449.5" y="223.9" font-size="17.4" font-weight="700" fill="#111" textLength="77.5" lengthAdjust="spacingAndGlyphs">Endurance</text>
<text x="532.5" y="223.9" font-size="13.1" fill="#111">8 km</text>
<circle cx="429.1" cy="241.9" r="8.8" fill="#111"/>
<text x="429.1" y="246.7" font-size="13.2" font-weight="700" fill="#fff" text-anchor="middle">7</text>
<text x="449.5" y="248.2" font-size="17.4" font-weight="700" fill="#111" textLength="96" lengthAdjust="spacingAndGlyphs">Performance</text>
<text x="551.7" y="248.2" font-size="13.1" fill="#111">5 km</text>
<text x="26.4" y="316.7" font-size="9.4" font-weight="700" fill="#2b2b2e" textLength="59.2" lengthAdjust="spacingAndGlyphs">Aosta -Arvier</text>
<text x="228.1" y="366.2" font-size="13.6" font-weight="700" fill="#1a1a1c" textLength="69.4" lengthAdjust="spacingAndGlyphs">Valgrisenche</text>
<text x="567.9" y="313.5" font-size="10.2" font-weight="700" fill="#2b2b2e" textLength="33.6" lengthAdjust="spacingAndGlyphs">Diga du</text>
<text x="567.9" y="325.8" font-size="10.2" font-weight="700" fill="#2b2b2e" textLength="51.7" lengthAdjust="spacingAndGlyphs">Beauregard</text>
</svg>
</body></html>
